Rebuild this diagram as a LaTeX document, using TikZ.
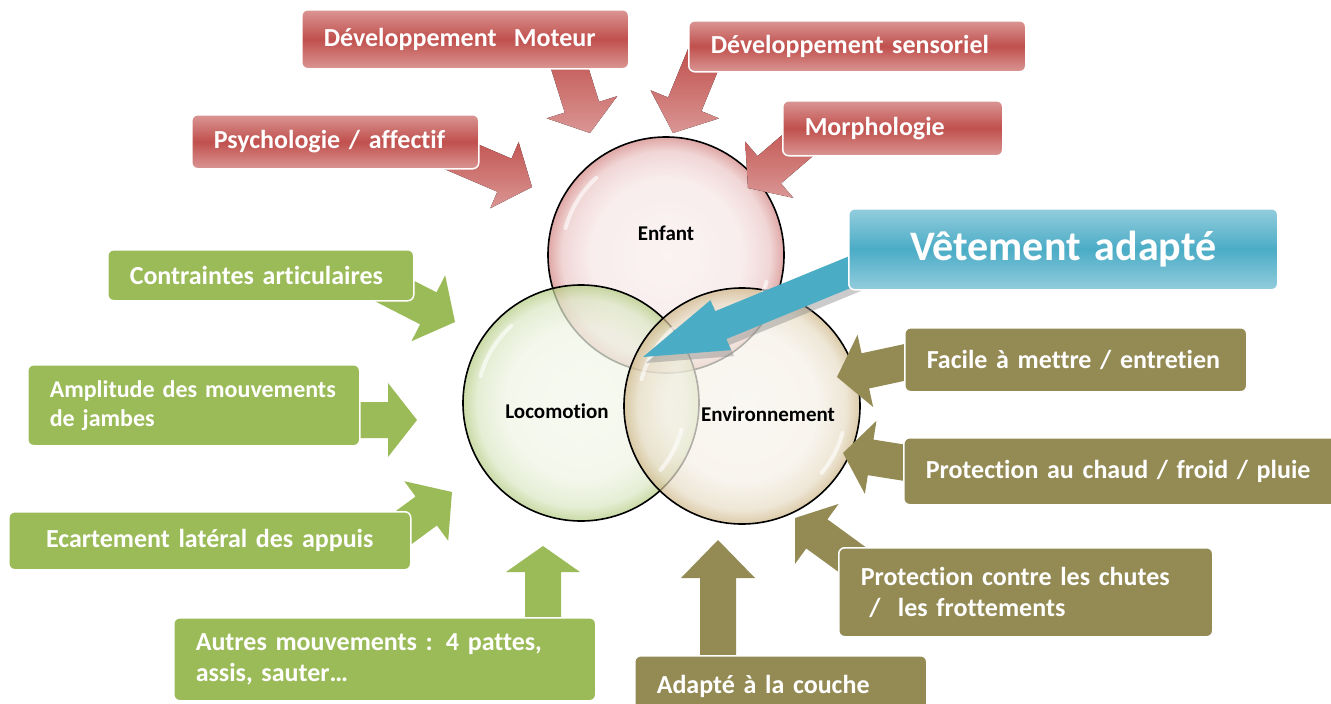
\documentclass[tikz,border=0pt]{standalone}
\usepackage{fontspec}
\setmainfont{Carlito}[Ligatures=NoCommon]
\usetikzlibrary{
  calc,        % points on and beside the arrow axes
  positioning
}

\definecolor{redtone}{HTML}{C0504D}
\definecolor{redlight}{HTML}{DA9694}
\definecolor{bluetone}{HTML}{4BACC6}
\definecolor{bluelight}{HTML}{93CDDD}
\definecolor{greentone}{HTML}{9BBB59}
\definecolor{olivetone}{HTML}{948A54}
\definecolor{tantone}{HTML}{C2A56A}

\newcommand{\tagfont}{\fontsize{26}{31}\selectfont\bfseries}
\newcommand{\smalltagfont}{\fontsize{24}{29}\selectfont\bfseries}
\newcommand{\vetfont}{\fontsize{42}{48}\selectfont\bfseries}
\newcommand{\ballfont}{\fontsize{21}{25}\selectfont\bfseries}

% glossy fills of the three circles
\pgfdeclareradialshading{enfantball}{\pgfpoint{0bp}{0bp}}{color(0bp)=(white!90!redtone); color(16bp)=(white!86!redtone); color(22bp)=(white!68!redtone); color(25bp)=(white!30!redtone); color(50bp)=(white!30!redtone)}
\pgfdeclareradialshading{locoball}{\pgfpoint{0bp}{0bp}}{color(0bp)=(white!88!greentone); color(16bp)=(white!84!greentone); color(22bp)=(white!65!greentone); color(25bp)=(white!25!greentone); color(50bp)=(white!25!greentone)}
\pgfdeclareradialshading{envball}{\pgfpoint{0bp}{0bp}}{color(0bp)=(white!88!tantone); color(16bp)=(white!84!tantone); color(22bp)=(white!62!tantone); color(25bp)=(white!20!tantone); color(50bp)=(white!20!tantone)}

% style, tail, tip, shaft half width, head half width, head length
\newcommand{\blockarrow}[6]{%
  \path ($(#3)!#6!(#2)$) coordinate (hb);
  \fill[#1] ($(#2)!#4!90:(#3)$) -- ($(hb)!#4!90:(#3)$) -- ($(hb)!#5!90:(#3)$) -- (#3)
    -- ($(hb)!#5!-90:(#3)$) -- ($(hb)!#4!-90:(#3)$) -- ($(#2)!#4!-90:(#3)$) -- cycle;
}

\tikzset{
  tag/.style={rounded corners=6pt, anchor=north west, inner xsep=22pt, inner ysep=0pt,
    align=left, text=white, font=\tagfont, draw=white, line width=1.5pt},
  redtag/.style={tag, top color=redlight, bottom color=redlight, middle color=redtone},
  bluetag/.style={tag, top color=bluelight, bottom color=bluelight, middle color=bluetone,
    align=center, font=\vetfont},
  greentag/.style={tag, fill=greentone},
  olivetag/.style={tag, fill=olivetone},
  ball/.style={circle, draw=black, line width=1.6pt, minimum size=236pt, inner sep=0pt,
    shade, fill opacity=0.72},
  gloss/.style={white, line width=4pt, line cap=round, opacity=0.6},
  balltext/.style={font=\ballfont, text=black},
  redarrow/.style={top color=redtone, bottom color=redlight},
  greenarrow/.style={fill=greentone},
  olivearrow/.style={fill=olivetone},
  bluearrow/.style={fill=bluetone},
  shadowarrow/.style={fill=black!45, fill opacity=0.45}
}

\begin{document}
\begin{tikzpicture}[x=1pt, y=-1pt]
  \useasboundingbox (0,0) rectangle (1331,704);

  % circles
  \node[ball, shading=enfantball] (enfant) at (666,255) {};
  \node[ball, shading=locoball] (loco) at (581,403) {};
  \node[ball, shading=envball] (env) at (742,406) {};
  \draw[gloss] ($(enfant)+(195:104)$) arc[start angle=195, end angle=228, radius=104];
  \draw[gloss] ($(enfant)+(15:104)$) arc[start angle=15, end angle=40, radius=104];
  \draw[gloss] ($(loco)+(195:104)$) arc[start angle=195, end angle=228, radius=104];
  \draw[gloss] ($(loco)+(15:104)$) arc[start angle=15, end angle=40, radius=104];
  \draw[gloss] ($(env)+(195:104)$) arc[start angle=195, end angle=228, radius=104];
  \draw[gloss] ($(env)+(15:104)$) arc[start angle=15, end angle=40, radius=104];
  \node[balltext] (enfantlbl) at (666,233) {Enfant};
  \node[balltext] (locolbl) at (557,411) {Locomotion};
  \node[balltext] (envlbl) at (768,414) {Environnement};

  % arrow ends
  \coordinate (motT) at (564,50);   \coordinate (motH) at (590,133);
  \coordinate (sensT) at (705,55);  \coordinate (sensH) at (673,133);
  \coordinate (psyT) at (448,151);  \coordinate (psyH) at (532,187);
  \coordinate (morT) at (811,134);  \coordinate (morH) at (748,188);
  \coordinate (conT) at (375,281);  \coordinate (conH) at (455,322);
  \coordinate (ampT) at (330,420);  \coordinate (ampH) at (417,420);
  \coordinate (ecaT) at (376,548);  \coordinate (ecaH) at (452,492);
  \coordinate (autT) at (543,650);  \coordinate (autH) at (543,546);
  \coordinate (couT) at (718,680);  \coordinate (couH) at (718,540);
  \coordinate (chuT) at (861,566);  \coordinate (chuH) at (795,518);
  \coordinate (chaT) at (925,466);  \coordinate (chaH) at (843,453);
  \coordinate (facT) at (925,358);  \coordinate (facH) at (837,377);
  \coordinate (vetT) at (855,270);  \coordinate (vetH) at (643,357);
  \coordinate (vetTs) at (858,276); \coordinate (vetHs) at (646,363);

  \blockarrow{redarrow}{motT}{motH}{18pt}{37pt}{27pt}
  \blockarrow{redarrow}{sensT}{sensH}{18pt}{37pt}{31pt}
  \blockarrow{redarrow}{psyT}{psyH}{18pt}{36pt}{30pt}
  \blockarrow{redarrow}{morT}{morH}{18pt}{37pt}{28pt}
  \blockarrow{greenarrow}{conT}{conH}{18pt}{37pt}{30pt}
  \blockarrow{greenarrow}{ampT}{ampH}{18pt}{37pt}{29pt}
  \blockarrow{greenarrow}{ecaT}{ecaH}{18pt}{37pt}{32pt}
  \blockarrow{greenarrow}{autT}{autH}{18pt}{37pt}{26pt}
  \blockarrow{olivearrow}{couT}{couH}{18pt}{37pt}{38pt}
  \blockarrow{olivearrow}{chuT}{chuH}{18pt}{37pt}{27pt}
  \blockarrow{olivearrow}{chaT}{chaH}{18pt}{37pt}{28pt}
  \blockarrow{olivearrow}{facT}{facH}{18pt}{37pt}{29pt}
  \blockarrow{shadowarrow}{vetTs}{vetHs}{15pt}{27pt}{84pt}
  \blockarrow{bluearrow}{vetT}{vetH}{15pt}{27pt}{84pt}

  % boxes
  \node[redtag, text width=283pt, minimum height=59pt] (mot) at (301,9) {Développement\ \ Moteur};
  \node[redtag, text width=293pt, minimum height=51pt] (sens) at (688,20) {Développement sensoriel};
  \node[redtag, text width=176pt, minimum height=55pt] (morph) at (782,100) {Morphologie};
  \node[redtag, text width=243pt, minimum height=54pt] (psy) at (191,114) {Psychologie / affectif};
  \node[bluetag, text width=385pt, minimum height=81pt] (vet) at (848,208) {Vêtement adapté};
  \node[greentag, text width=262pt, minimum height=51pt] (contr) at (107,249) {Contraintes articulaires};
  \node[greentag, text width=288pt, minimum height=81pt, font=\smalltagfont] (ampl) at (27,364) {Amplitude des mouvements\\de jambes};
  \node[greentag, text width=358pt, minimum height=58pt, align=center] (ecart) at (8,511) {Ecartement latéral des appuis};
  \node[greentag, text width=378pt, minimum height=83pt] (autres) at (173,617) {Autres mouvements : 4 pattes,\\assis, sauter…};
  \node[olivetag, text width=298pt, minimum height=64pt] (facile) at (904,327) {Facile à mettre / entretien};
  \node[olivetag, text width=390pt, minimum height=67pt] (chaud) at (903,437) {Protection au chaud / froid / pluie};
  \node[olivetag, text width=330pt, minimum height=89pt] (chutes) at (838,547) {Protection contre les chutes\\\ /\ \ les frottements};
  \node[olivetag, text width=248pt, minimum height=62pt] (couche) at (634,655) {Adapté à la couche};
\end{tikzpicture}
\end{document}
